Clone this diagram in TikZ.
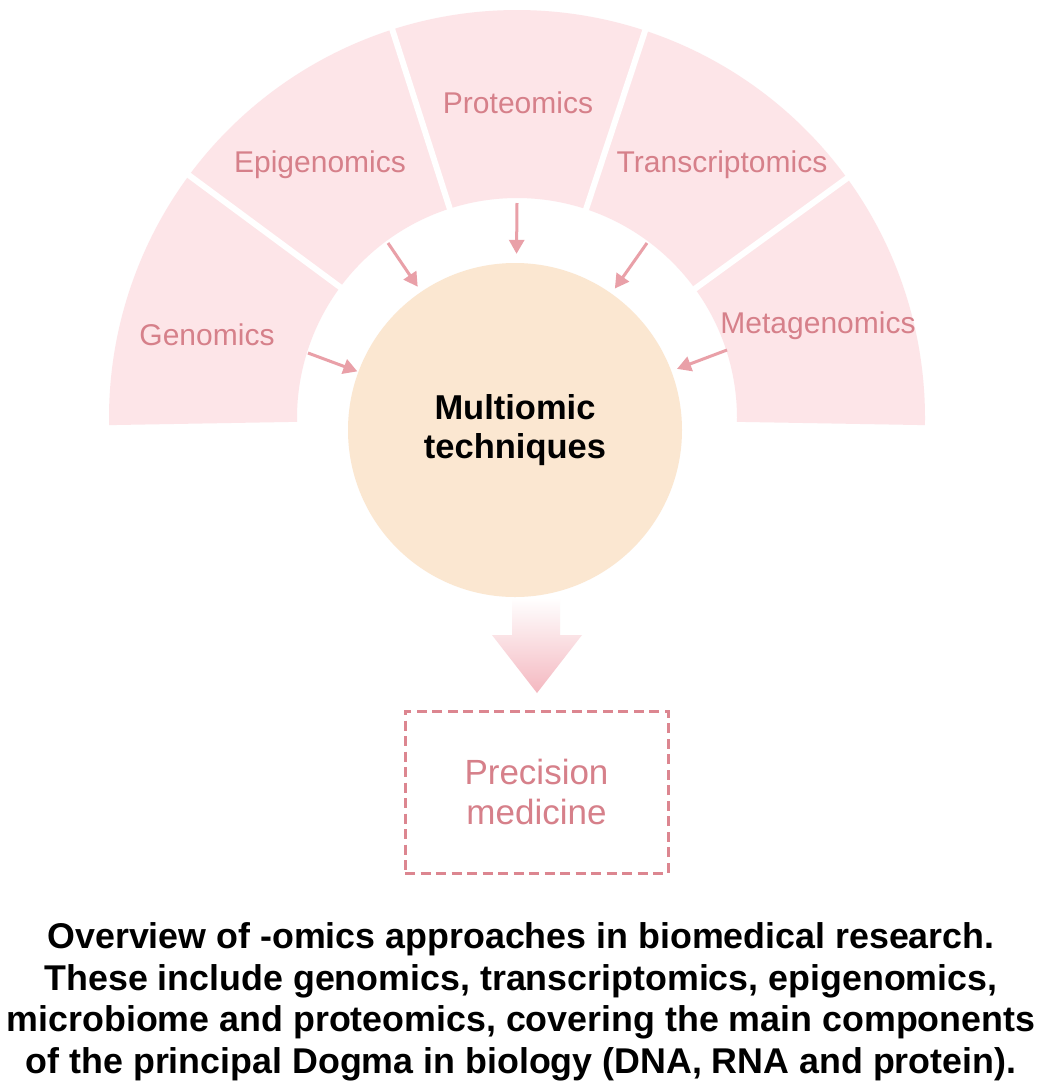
\documentclass[tikz,border=0pt]{standalone}
\usepackage{fontspec}
\setmainfont{Liberation Sans}
\usetikzlibrary{arrows.meta,calc}
\definecolor{secpink}{RGB}{253,229,232}
\definecolor{txtpink}{RGB}{214,128,138}
\definecolor{arrpink}{RGB}{233,160,168}
\definecolor{peach}{RGB}{251,231,209}
\definecolor{boxpink}{RGB}{220,134,144}
\definecolor{bigpink}{RGB}{244,184,192}
\begin{document}
\begin{tikzpicture}[x=1pt,y=1pt,
  sector/.style={fill=secpink},
  gapline/.style={draw=white,line width=6pt},
  lbl/.style={text=txtpink,font=\fontsize{30}{35}\selectfont,anchor=base,inner sep=0pt},
  arr/.style={draw=arrpink,line width=3pt,-{Triangle[length=14pt,width=15pt]},shorten >=6pt}]
\useasboundingbox (0,0) rectangle (1043,-1085);
\fill[white] (0,0) rectangle (1043,-1085);
\coordinate (C) at (517,-418);
% ring sectors
\foreach \a/\b in {-1/36, 36/71.7, 71.7/107.8, 107.8/143.5, 143.5/181}{
  \fill[sector] ($(C)+(\a:220)$) arc[start angle=\a,end angle=\b,radius=220]
     -- ($(C)+(\b:408)$) arc[start angle=\b,end angle=\a,radius=408] -- cycle;
}
\foreach \a in {36,71.7,107.8,143.5}{
  \draw[gapline] ($(C)+(\a:212)$) -- ($(C)+(\a:416)$);
}
% labels
\node[lbl] (gen) at (207,-345) {Genomics};
\node[lbl] (epi) at (320,-172) {Epigenomics};
\node[lbl] (pro) at (518,-113) {Proteomics};
\node[lbl] (tra) at (722,-172) {Transcriptomics};
\node[lbl] (met) at (818,-333) {Metagenomics};
% central circle
\node[circle,fill=peach,minimum size=334pt,inner sep=0pt,align=center,
      font=\bfseries\fontsize{34.5}{39}\selectfont] (mc) at (515,-430) {Multiomic\\techniques};
% arrow starts
\coordinate (gA) at (308,-353);
\coordinate (eA) at (388,-243);
\coordinate (pA) at (517,-203);
\coordinate (tA) at (647,-243);
\coordinate (mA) at (727,-350);
\draw[arr,shorten >=1pt] (gA) -- (mc);
\draw[arr] (eA) -- (mc);
\draw[arr,shorten >=9pt] (pA) -- (mc);
\draw[arr] (tA) -- (mc);
\draw[arr] (mA) -- (mc);
% big arrow
\shade[top color=white,bottom color=bigpink]
  (512,-598) -- (560,-598) -- (560,-635) -- (582,-635) -- (537,-693)
  -- (492,-635) -- (512,-635) -- cycle;
% precision medicine box
\node[draw=boxpink,line width=3pt,dash pattern=on 10pt off 5.5pt,
      minimum width=263pt,minimum height=162pt,align=center,text=txtpink,
      font=\fontsize{35}{40}\selectfont] (pm) at (536.5,-792) {Precision\\medicine};
% caption
\node[align=center,font=\bfseries\fontsize{35.8}{41.5}\selectfont,inner sep=0pt] (cap) at (521,-1002)
 {Overview of -omics approaches in biomedical research.\\
  These include genomics, transcriptomics, epigenomics,\\
  microbiome and proteomics, covering the main components\\
  of the principal Dogma in biology (DNA, RNA and protein).};
\end{tikzpicture}
\end{document}
